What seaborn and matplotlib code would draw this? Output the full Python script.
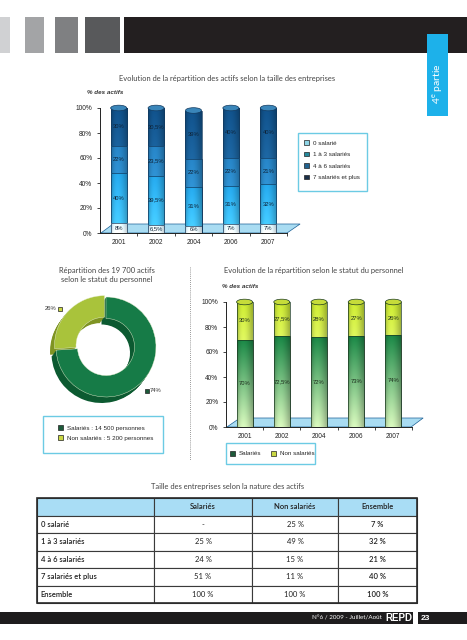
import numpy as np
import pandas as pd
import matplotlib
matplotlib.use("Agg")
import matplotlib.pyplot as plt
import seaborn as sns
from matplotlib.patches import Rectangle, Polygon, Patch, Ellipse
from matplotlib.lines import Line2D
from matplotlib.colors import to_rgb

# --- data ---
annees = ["2001", "2002", "2004", "2006", "2007"]

taille_cats = ["0 salarié", "1 à 3 salariés", "4 à 6 salariés", "7 salariés et plus"]
taille_0 = [8, 6.5, 6, 7, 7]
taille_1_3 = [40, 39.5, 31, 31, 32]
taille_4_6 = [22, 23.5, 22, 22, 21]
taille_7 = [30, 30.5, 39, 40, 40]

statut_cats = ["Salariés", "Non salariés"]
statut_effectifs = [14500, 5200]
statut_parts = [74, 26]

evol_salaries = [70, 72.5, 72, 73, 74]
evol_non_salaries = [30, 27.5, 28, 27, 26]

table_cols = ["", "Salariés", "Non salariés", "Ensemble"]
table_rows = ["0 salarié", "1 à 3 salariés", "4 à 6 salariés", "7 salariés et plus", "Ensemble"]
table_salaries = ["-", "25 %", "24 %", "51 %", "100 %"]
table_non_salaries = ["25 %", "49 %", "15 %", "11 %", "100 %"]
table_ensemble = ["7 %", "32 %", "21 %", "40 %", "100 %"]

W, H = 467, 640
NUM_FONT = "Liberation Sans"

sns.set_style("ticks")
plt.rcParams["font.family"] = ["Lato", "DejaVu Sans"]


def fx(x):
    return x / W


def fy(y):
    return 1 - y / H


def box(x0, y0, x1, y1):
    return [fx(x0), fy(y1), (x1 - x0) / W, (y1 - y0) / H]


def fig_rect(fig, x0, y0, x1, y1, **kw):
    fig.add_artist(Rectangle((fx(x0), fy(y1)), (x1 - x0) / W, (y1 - y0) / H,
                             transform=fig.transFigure, **kw))


def pct(v):
    return f"{v:g}".replace(".", ",") + "%"


def shade(ax, patch, c_top, c_bot, z):
    # cylinder-like gradient clipped to the bar
    x0, y0 = patch.get_x(), patch.get_y()
    w, h = patch.get_width(), patch.get_height()
    v = np.linspace(0, 1, 64)[:, None, None]
    u = np.linspace(0, 1, 32)[None, :, None]
    top, bot = np.array(to_rgb(c_top)), np.array(to_rgb(c_bot))
    img = bot + (top - bot) * v
    light = 0.82 + 0.3 * np.sin(np.pi * u ** 0.75)
    img = np.clip(img * light, 0, 1)
    im = ax.imshow(img, extent=[x0, x0 + w, y0, y0 + h], origin="lower",
                   aspect="auto", zorder=z, interpolation="bilinear")
    im.set_clip_path(patch)
    patch.set_facecolor("none")
    patch.set_zorder(z + 0.1)


def stacked(ax, layers, shades, edge, width, cap):
    cum = np.cumsum(layers, axis=0)
    n_lay = len(layers)
    for k in reversed(range(n_lay)):
        n0 = len(ax.patches)
        sns.barplot(x=annees, y=cum[k], color=shades[k][0], saturation=1,
                    width=width, errorbar=None, ax=ax)
        for p in ax.patches[n0:]:
            p.set_edgecolor(edge)
            p.set_linewidth(0.5)
            shade(ax, p, shades[k][0], shades[k][1], 2 + (n_lay - k))
            if k == n_lay - 1:
                # elliptic lid of the cylinder
                ax.add_patch(Ellipse((p.get_x() + p.get_width() / 2, p.get_y() + p.get_height()),
                                     p.get_width(), 4.5, facecolor=cap, edgecolor=edge,
                                     lw=0.5, zorder=15, clip_on=False))
    ax.set_xlim(-0.5, 4.5)
    ax.set_ylim(0, 100)
    return cum


def style_axes(ax):
    sns.despine(ax=ax)
    ax.set_yticks([0, 20, 40, 60, 80, 100])
    ax.set_yticklabels([f"{t}%" for t in range(0, 101, 20)])
    ax.set_xticks(np.arange(5) + 0.5, minor=True)
    ax.tick_params(axis="x", which="major", length=0, pad=4)
    ax.tick_params(axis="x", which="minor", length=2.5, width=0.6)
    ax.tick_params(axis="y", length=2.5, width=0.6, pad=3)
    for lab in ax.get_xticklabels() + ax.get_yticklabels():
        lab.set_fontsize(4.7)
        lab.set_family(NUM_FONT)
        lab.set_color("#222222")
    for s in ax.spines.values():
        s.set_linewidth(0.7)
        s.set_color("#222222")
    ax.set_xlabel("")
    ax.set_ylabel("")


fig = plt.figure(figsize=(4.67, 6.4), dpi=100)

# --- page header ---
for (x0, x1), c in zip([(0, 10), (25, 44), (55, 78), (85, 120), (124, 467)],
                       ["#d0d1d3", "#a3a4a6", "#7f8082", "#58595b", "#231f20"]):
    fig_rect(fig, x0, 17, x1, 53, color=c, lw=0)
fig_rect(fig, 427, 34, 448, 116, color="#1db1ea", lw=0)
fig.text(fx(438), fy(84), r"4$^{\mathregular{e}}$ partie", rotation=90, color="white",
         fontsize=7.5, ha="center", va="center")

# --- chart 1: taille des entreprises ---
fig.text(fx(227), fy(78), "Evolution de la répartition des actifs selon la taille des entreprises",
         fontsize=5.4, color="#444444", ha="center", va="center")
fig.text(fx(87), fy(93), "% des actifs", fontsize=4.5, fontweight="bold", style="italic",
         family=NUM_FONT, color="#333333", ha="left", va="center")

ax1 = fig.add_axes(box(100, 108, 287, 233))
ax1.add_patch(Polygon([(0.005, 0), (0.07, 0.072), (1.07, 0.072), (1.0, 0)], closed=True,
                      transform=ax1.transAxes, facecolor="#a9dcf2", edgecolor="#1a5f95",
                      lw=0.5, clip_on=False, zorder=1))
blues = [("#d5edf8", "#eef8fc"), ("#2198d6", "#45c0ee"), ("#2378b4", "#3a9ad4"), ("#0f4a7e", "#2c7ab4")]
layers1 = [taille_0, taille_1_3, taille_4_6, taille_7]
cum1 = stacked(ax1, layers1, blues, "#12395e", 0.43, "#3a86ba")
for i in range(len(annees)):
    for k, lay in enumerate(layers1):
        ax1.text(i, cum1[k][i] - lay[i] / 2, pct(lay[i]), ha="center", va="center",
                 fontsize=4.2, family=NUM_FONT, color="#0e2236", zorder=20)
style_axes(ax1)

fig_rect(fig, 298, 133, 367, 191, facecolor="none", edgecolor="#6ccbe4", lw=1)
leg_cols1 = ["#8fd5e6", "#25899c", "#22628f", "#1b2f48"]
fig.legend([Patch(facecolor=c, edgecolor="#222222", lw=0.5) for c in leg_cols1], taille_cats,
           loc="upper left", bbox_to_anchor=(fx(304), fy(140)), frameon=False,
           prop={"family": NUM_FONT, "size": 4.5}, handlelength=0.8, handleheight=0.8,
           handletextpad=0.6, labelspacing=0.95, borderpad=0, borderaxespad=0)

# --- chart 2: donut ---
fig.text(fx(107), fy(275), "Répartition des 19 700 actifs\nselon le statut du personnel",
         fontsize=5.4, color="#444444", ha="center", va="center", linespacing=1.25)
axd = fig.add_axes(box(46, 287, 166, 407))
ordre = statut_parts[::-1]
greens_dark = ["#7f9423", "#0c5a31"]
for t in np.linspace(1, 0.15, 7):
    axd.pie(ordre, colors=greens_dark, startangle=90, counterclock=True,
            center=(-0.09 * t, -0.12 * t), explode=[0.04, 0],
            wedgeprops=dict(width=0.43, edgecolor="none"))
axd.pie(ordre, colors=["#a9c33b", "#167b47"], startangle=90, counterclock=True,
        explode=[0.04, 0], wedgeprops=dict(width=0.43, edgecolor="#e8f0d0", lw=0.3))
axd.set_xlim(-1.2, 1.2)
axd.set_ylim(-1.2, 1.2)
axd.axis("off")

fig.text(fx(56), fy(309), pct(statut_parts[1]), fontsize=4.2, family=NUM_FONT,
         color="#333333", ha="right", va="center")
fig.add_artist(Line2D([fx(60)], [fy(309)], marker="s", markersize=2.6, markerfacecolor="#c9d742",
                      markeredgecolor="#222222", markeredgewidth=0.5, transform=fig.transFigure))
fig.add_artist(Line2D([fx(147)], [fy(391)], marker="s", markersize=2.6, markerfacecolor="#1d5a3a",
                      markeredgecolor="#222222", markeredgewidth=0.5, transform=fig.transFigure))
fig.text(fx(150), fy(391), pct(statut_parts[0]), fontsize=4.2, family=NUM_FONT,
         color="#333333", ha="left", va="center")

fig_rect(fig, 43, 416, 163, 453, facecolor="none", edgecolor="#6ccbe4", lw=1)
fig.legend([Patch(facecolor=c, edgecolor="#222222", lw=0.5) for c in ["#1d5a3a", "#c9d742"]],
           [f"{c} : {n:,} personnes".replace(",", " ") for c, n in zip(statut_cats, statut_effectifs)],
           loc="upper left", bbox_to_anchor=(fx(58), fy(425)), frameon=False,
           prop={"family": NUM_FONT, "size": 4.5}, handlelength=0.8, handleheight=0.8,
           handletextpad=0.6, labelspacing=0.75, borderpad=0, borderaxespad=0)

fig.add_artist(Line2D([fx(190), fx(190)], [fy(267), fy(460)], ls=(0, (1, 1.5)), lw=0.6,
                      color="#777777", transform=fig.transFigure))

# --- chart 3: statut du personnel ---
fig.text(fx(224), fy(271), "Evolution de la répartition selon le statut du personnel",
         fontsize=5.4, color="#444444", ha="left", va="center")
fig.text(fx(222), fy(287), "% des actifs", fontsize=4.5, fontweight="bold", style="italic",
         family=NUM_FONT, color="#333333", ha="left", va="center")

ax3 = fig.add_axes(box(226, 302, 412, 427))
ax3.add_patch(Polygon([(0.005, 0), (0.075, 0.072), (1.06, 0.072), (0.995, 0)], closed=True,
                      transform=ax3.transAxes, facecolor="#a9dcf2", edgecolor="#1a5f95",
                      lw=0.5, clip_on=False, zorder=1))
layers3 = [evol_salaries, evol_non_salaries]
greens = [("#177a3f", "#c3e0ab"), ("#b9d42c", "#eef4b8")]
cum3 = stacked(ax3, layers3, greens, "#1b3a22", 0.43, "#c6dc3a")
for i in range(len(annees)):
    for k, lay in enumerate(layers3):
        ax3.text(i, cum3[k][i] - lay[i] / 2, pct(lay[i]), ha="center", va="center",
                 fontsize=4.2, family=NUM_FONT, color="#1a2a1a", zorder=20)
style_axes(ax3)

fig_rect(fig, 226, 443, 315, 464, facecolor="none", edgecolor="#6ccbe4", lw=1)
fig.legend([Patch(facecolor=c, edgecolor="#222222", lw=0.5) for c in ["#1d5a3a", "#c9d742"]],
           statut_cats, loc="center left", bbox_to_anchor=(fx(230), fy(453.5)), frameon=False,
           ncol=2, prop={"family": NUM_FONT, "size": 4.5}, handlelength=0.8, handleheight=0.8,
           handletextpad=0.6, columnspacing=1.6, borderpad=0, borderaxespad=0)

# --- table ---
fig.text(fx(228), fy(486), "Taille des entreprises selon la nature des actifs",
         fontsize=5.4, color="#444444", ha="center", va="center")
axt = fig.add_axes(box(37, 498, 417, 603))
axt.axis("off")
cells = [list(r) for r in zip(table_rows, table_salaries, table_non_salaries, table_ensemble)]
tb = axt.table(cellText=cells, colLabels=table_cols, colWidths=[0.308, 0.258, 0.226, 0.208],
               bbox=[0, 0, 1, 1], cellLoc="center")
tb.auto_set_font_size(False)
tb.set_fontsize(5.5)
for (r, c), cell in tb.get_celld().items():
    cell.set_edgecolor("#3a3a3a")
    cell.set_linewidth(0.8)
    txt = cell.get_text()
    txt.set_color("#222222")
    if r == 0:
        cell.set_facecolor("#a9ddf5")
        txt.set_fontweight("semibold")
    if c == 0:
        cell._loc = "left"
        cell.PAD = 0.03
        txt.set_horizontalalignment("left")
        txt.set_fontweight("semibold")
    if c == 3 and r > 0:
        txt.set_fontweight("semibold")
fig_rect(fig, 37, 498, 417, 603, facecolor="none", edgecolor="#2a2a2a", lw=1.2)

# --- footer ---
fig_rect(fig, 0, 612, 413, 624, color="#1e1c1d", lw=0)
fig_rect(fig, 418, 612, 467, 624, color="#1e1c1d", lw=0)
fig.text(fx(382), fy(618), "N°6 / 2009 - Juillet/Août", fontsize=4.5, color="white",
         ha="right", va="center")
fig.text(fx(399), fy(618), "REPD", fontsize=7, fontweight="bold", family=NUM_FONT,
         color="white", ha="center", va="center")
fig.text(fx(421), fy(618), "23", fontsize=6, fontweight="bold", family=NUM_FONT,
         color="white", ha="left", va="center")

fig.savefig("out.png", dpi=100, facecolor="white")
